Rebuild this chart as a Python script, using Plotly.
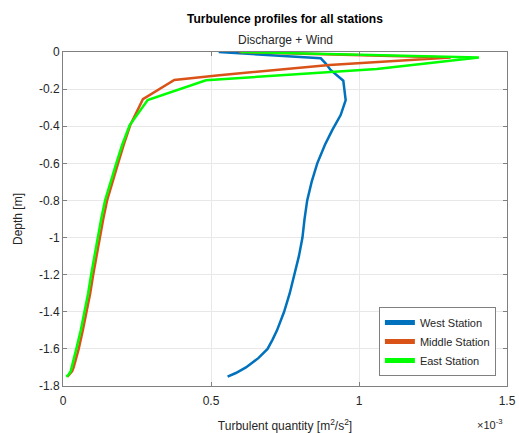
import plotly.graph_objects as go

# Turbulent quantity values in units of 1e-3 m^2/s^2, depth in m
west_depth = [0, -0.034, -0.061, -0.097, -0.155, -0.259, -0.34, -0.42, -0.5, -0.6, -0.7, -0.8, -0.9, -1.0, -1.1, -1.2, -1.3, -1.4, -1.5, -1.55, -1.6, -1.65, -1.7, -1.73, -1.75]
west_tke = [0.526, 0.871, 0.887, 0.904, 0.947, 0.955, 0.938, 0.91, 0.885, 0.859, 0.84, 0.825, 0.816, 0.809, 0.797, 0.781, 0.766, 0.747, 0.723, 0.708, 0.691, 0.66, 0.618, 0.584, 0.556]

middle_depth = [0, -0.03, -0.07, -0.105, -0.125, -0.151, -0.254, -0.395, -0.45, -0.5, -0.6, -0.7, -0.8, -0.9, -1.0, -1.1, -1.2, -1.3, -1.4, -1.5, -1.6, -1.65, -1.7, -1.72, -1.74, -1.75]
middle_tke = [0.595, 1.31, 0.9, 0.66, 0.528, 0.376, 0.27, 0.227, 0.215, 0.205, 0.186, 0.167, 0.149, 0.136, 0.124, 0.113, 0.102, 0.092, 0.08, 0.067, 0.053, 0.045, 0.036, 0.031, 0.022, 0.015]

east_depth = [0, -0.03, -0.092, -0.152, -0.259, -0.395, -0.45, -0.5, -0.6, -0.7, -0.8, -0.9, -1.0, -1.1, -1.2, -1.3, -1.4, -1.5, -1.6, -1.65, -1.7, -1.72, -1.74, -1.75]
east_tke = [0.6, 1.405, 1.06, 0.483, 0.286, 0.225, 0.212, 0.2, 0.18, 0.16, 0.142, 0.129, 0.117, 0.106, 0.095, 0.085, 0.073, 0.06, 0.045, 0.038, 0.03, 0.026, 0.018, 0.011]

x_ticks = [0, 0.5, 1, 1.5]
x_ticklabels = ["0", "0.5", "1", "1.5"]
y_ticks = [0, -0.2, -0.4, -0.6, -0.8, -1.0, -1.2, -1.4, -1.6, -1.8]
y_ticklabels = ["0", "-0.2", "-0.4", "-0.6", "-0.8", "-1", "-1.2", "-1.4", "-1.6", "-1.8"]

FONT = "Liberation Sans, Arial, sans-serif"
TXT = "#262626"

fig = go.Figure()
fig.add_trace(go.Scatter(x=west_tke, y=west_depth, mode="lines", name="West Station",
                         line=dict(color="#0072BD", width=2.5)))
fig.add_trace(go.Scatter(x=middle_tke, y=middle_depth, mode="lines", name="Middle Station",
                         line=dict(color="#D95319", width=2.5)))
fig.add_trace(go.Scatter(x=east_tke, y=east_depth, mode="lines", name="East Station",
                         line=dict(color="#00FF00", width=2.5)))

axis_common = dict(showgrid=True, gridcolor="#e8e8e8", gridwidth=1, zeroline=False,
                   showline=True, linecolor="#808080", linewidth=1, mirror="ticks",
                   ticks="inside", ticklen=4, tickcolor="#808080", automargin=False,
                   tickfont=dict(family=FONT, size=12, color=TXT))

fig.update_layout(
    width=519, height=433,
    margin=dict(l=63, r=12, t=52, b=47),
    paper_bgcolor="white", plot_bgcolor="white",
    font=dict(family=FONT, color=TXT),
    showlegend=True,
    legend=dict(x=0.975, y=0.03, xanchor="right", yanchor="bottom",
                bgcolor="white", bordercolor="#808080", borderwidth=1,
                font=dict(family=FONT, size=11, color=TXT),
                tracegroupgap=0, itemsizing="constant"),
    xaxis=dict(range=[0, 1.5], tickvals=x_ticks, ticktext=x_ticklabels, ticklabelstandoff=4,
               title=dict(text="Turbulent quantity [m<sup>2</sup>/s<sup>2</sup>]",
                          font=dict(family=FONT, size=12, color=TXT), standoff=16),
               **axis_common),
    yaxis=dict(range=[-1.8, 0], tickvals=y_ticks, ticktext=y_ticklabels,
               title=dict(text="Depth [m]", font=dict(family=FONT, size=12, color=TXT), standoff=13),
               **axis_common),
    annotations=[
        dict(text="<b>Turbulence profiles for all stations</b>", xref="paper", yref="paper",
             x=0.5, y=1, yshift=33, showarrow=False, xanchor="center", yanchor="middle",
             font=dict(family=FONT, size=12, color="#000000")),
        dict(text="Discharge + Wind", xref="paper", yref="paper",
             x=0.5, y=1, yshift=12, showarrow=False, xanchor="center", yanchor="middle",
             font=dict(family=FONT, size=12, color=TXT)),
        dict(text="×10<sup>-3</sup>", xref="paper", yref="paper",
             x=1, y=0, yshift=-38, xshift=-2, showarrow=False, xanchor="right", yanchor="middle",
             font=dict(family=FONT, size=11, color=TXT)),
    ],
)

fig.write_html("out.html", config={"displayModeBar": False},
               post_script="document.body.style.margin='0';document.body.style.overflow='hidden';")
